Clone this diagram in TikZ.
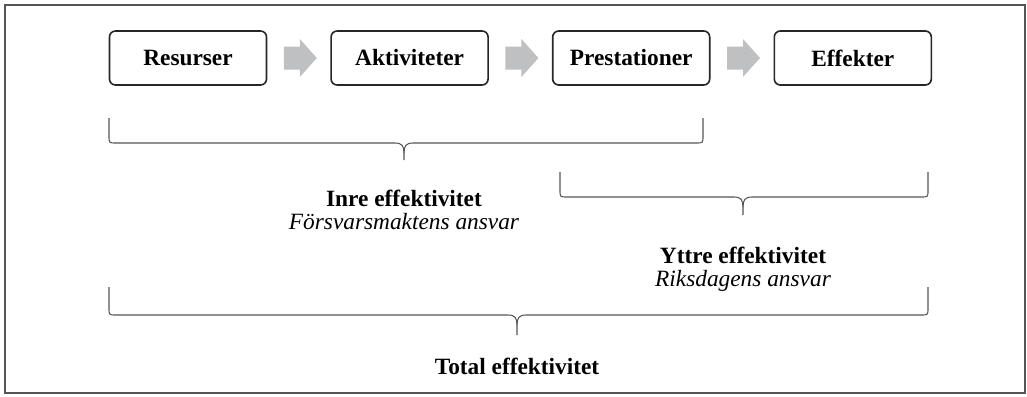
\documentclass[tikz,border=0pt]{standalone}
\usepackage{fontspec}
\setmainfont{Liberation Serif}
\usetikzlibrary{positioning,calc}

\definecolor{pilgra}{HTML}{BFC0C2}
\definecolor{ramgra}{HTML}{555555}

% klammer: x1, x2, mitt, topp, linje, spets
\newcommand{\klammer}[6]{%
  \draw[klammerlinje] (#1,#4) -- (#1,#5-7) .. controls (#1,#5) .. (#1+7,#5)
    -- (#3-9,#5) .. controls (#3-2,#5) and (#3,#5+3) .. (#3,#5+10) -- (#3,#6);
  \draw[klammerlinje] (#2,#4) -- (#2,#5-7) .. controls (#2,#5) .. (#2-7,#5)
    -- (#3+9,#5) .. controls (#3+2,#5) and (#3,#5+3) .. (#3,#5+10);
}

\begin{document}
\begin{tikzpicture}[
  x=0.75pt, y=-0.75pt,
  steg/.style={draw=black!85, line width=1.2pt, rounded corners=4.5pt,
    minimum width=117.75pt, minimum height=40.5pt, font=\fontsize{17.5}{19}\selectfont\bfseries},
  pil/.style={fill=pilgra, draw=none},
  klammerlinje/.style={draw=ramgra, line width=0.8pt},
  rubrik/.style={font=\fontsize{17.5}{19}\selectfont\bfseries, inner sep=0pt, anchor=base},
  ansvar/.style={font=\fontsize{17.5}{19}\selectfont\itshape, inner sep=0pt, anchor=base},
  node distance=47.25pt
]
  \useasboundingbox (0,0) rectangle (1027,396);
  \draw[ramgra, line width=1.3pt] (5,5) rectangle (1025,393);

  %% Steg
  \node[steg] (res) at (188,58) {Resurser};
  \node[steg, right=of res] (akt) {Aktiviteter};
  \node[steg, right=of akt] (pre) {Prestationer};
  \node[steg, right=of pre] (eff) {Effekter};

  %% Pilar
  \foreach \a/\b in {res/akt, akt/pre, pre/eff} {
    \coordinate (m) at ($(\a.east)!0.5!(\b.west)$);
    \fill[pil] ($(m)+(-15,-11.5)$) -- ($(m)+(1,-11.5)$) -- ($(m)+(1,-19)$)
      -- ($(m)+(18,0)$) -- ($(m)+(1,19)$) -- ($(m)+(1,11.5)$)
      -- ($(m)+(-15,11.5)$) -- cycle;
  }

  %% Klammer
  \klammer{109}{703}{404}{118}{143}{160}
  \klammer{560}{928}{743}{172}{197}{215}
  \klammer{109}{928}{517}{287}{315}{335}

  %% Texter
  \node[rubrik] (inre) at (404,206) {Inre effektivitet};
  \node[ansvar] (fm) at (404,229) {Försvarsmaktens ansvar};
  \node[rubrik] (yttre) at (743,263) {Yttre effektivitet};
  \node[ansvar] (rd) at (743,286) {Riksdagens ansvar};
  \node[rubrik] (total) at (517,374) {Total effektivitet};
\end{tikzpicture}
\end{document}
